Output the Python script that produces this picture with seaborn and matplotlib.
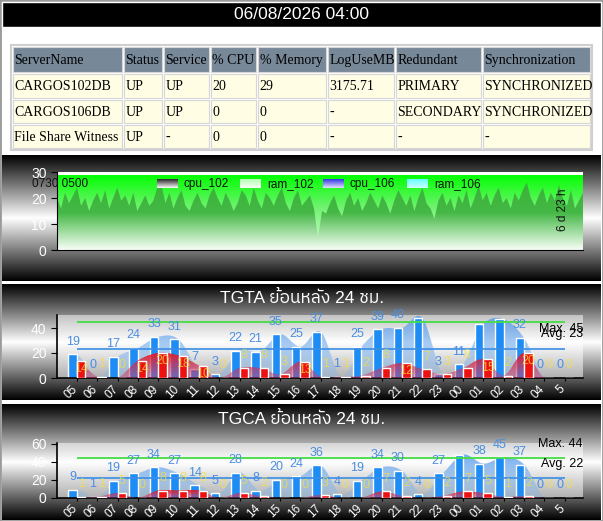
import numpy as np
import pandas as pd
import matplotlib
matplotlib.use("Agg")
import matplotlib.pyplot as plt
import seaborn as sns
from matplotlib import font_manager as fm
from matplotlib.ft2font import FT2Font
from matplotlib.patches import Rectangle
from matplotlib.transforms import ScaledTranslation, blended_transform_factory

sns.set_style("white")
plt.rcParams['font.family'] = ['Liberation Sans', 'DejaVu Sans']

# ---------------- datos ----------------
fecha = "06/08/2026 04:00"
columnas = ['ServerName', 'Status', 'Service', '% CPU', '% Memory', 'LogUseMB', 'Redundant', 'Synchronization']
fila_102 = ['CARGOS102DB', 'UP', 'UP', '20', '29', '3175.71', 'PRIMARY', 'SYNCHRONIZED']
fila_106 = ['CARGOS106DB', 'UP', 'UP', '0', '0', '-', 'SECONDARY', 'SYNCHRONIZED']
fila_fsw = ['File Share Witness', 'UP', '-', '0', '0', '-', '-', '-']

horas = ['05', '06', '07', '08', '09', '10', '11', '12', '13', '14', '15', '16', '17',
         '18', '19', '20', '21', '22', '23', '00', '01', '02', '03', '04', '5']

tgta_azul = [19, 0, 17, 24, 33, 31, 7, 3, 22, 21, 35, 25, 37, 1, 25, 39, 40, 48, 3, 11, 43, 47, 32, 0, 0]
tgta_rojo = [14, 1, 0, 14, 20, 18, 10, 0, 8, 8, 3, 13, 1, 1, 2, 8, 12, 7, 3, 8, 15, 2, 20, 0, 0]
tgta_max, tgta_avg = 45, 23

tgca_azul = [9, 1, 19, 27, 34, 27, 14, 5, 28, 8, 20, 24, 36, 4, 19, 34, 30, 4, 27, 48, 38, 45, 37, 0, 0]
tgca_rojo = [1, 1, 5, 0, 8, 8, 8, 0, 5, 2, 0, 0, 3, 0, 0, 7, 2, 0, 2, 7, 5, 1, 2, 0, 0]
tgca_max, tgca_avg = 44, 22

cpu_102 = [20, 16, 22, 18, 21, 24, 17, 20, 15, 19,
           22, 18, 23, 16, 20, 24, 19, 21, 17, 22,
           15, 18, 21, 17, 19, 24, 25, 18, 22, 16,
           20, 23, 17, 15, 19, 22, 18, 16, 21, 24,
           20, 17, 22, 19, 15, 18, 23, 21, 17, 24,
           19, 16, 22, 20, 17, 21, 24, 18, 15, 20,
           23, 17, 19, 21, 16, 4.5, 15, 14, 18, 21,
           16, 13, 19, 22, 17, 20, 15, 18, 22, 19,
           16, 21, 18, 14, 19, 23, 20, 17, 21, 15,
           20, 24, 18, 16, 12, 19, 22, 17, 20, 15,
           21, 18, 23, 16, 20, 25, 19, 22, 17, 21,
           24, 18, 20, 16, 22, 19, 23, 26, 20, 17,
           21, 24, 18, 22, 19, 25, 20, 17, 23, 16, 19, 22]
ram_102_nivel = 29
leyenda = ['cpu_102', 'ram_102', 'cpu_106', 'ram_106']


# buscar una fuente instalada con glifos tailandeses
def familia_con(ch):
    fuentes = sorted(fm.fontManager.ttflist, key=lambda f: ('Sans' not in f.name, f.name))
    for f in fuentes:
        try:
            if ord(ch) in FT2Font(f.fname).get_charmap():
                return f.name
        except Exception:
            pass
    return None


thai = familia_con('ย')
fam_titulo = ['Liberation Sans'] + ([thai] if thai else []) + ['DejaVu Sans']

# ---------------- figura ----------------
W, H = 603, 521
fig = plt.figure(figsize=(W / 100, H / 100), dpi=100)


def px(x0, y0, x1, y1):
    return [x0 / W, 1 - y1 / H, (x1 - x0) / W, (y1 - y0) / H]


def vgrad(stops, n=200):
    # stops: lista (posicion 0..1 desde arriba, rgba)
    t = np.linspace(0, 1, n)
    pos = [s[0] for s in stops]
    img = np.zeros((n, 1, 4))
    for c in range(4):
        img[:, 0, c] = np.interp(t, pos, [s[1][c] for s in stops])
    return img


def grad_fill(ax, x, y, stops, ytop, z):
    poly = ax.fill_between(x, 0, y, facecolor='none', edgecolor='none', zorder=z)
    im = ax.imshow(vgrad(stops), extent=[x[0], x[-1], 0, ytop], origin='upper',
                   aspect='auto', interpolation='bilinear', zorder=z)
    im.set_clip_path(poly.get_paths()[0], transform=ax.transData)


def suave(vals, n=12):
    p = np.asarray(vals, float)
    pts = np.concatenate([[p[0]], p, [p[-1]]])
    xs, ys = [], []
    t = np.linspace(0, 1, n, endpoint=False)
    for i in range(len(p) - 1):
        p0, p1, p2, p3 = pts[i:i + 4]
        y = 0.5 * (2 * p1 + (-p0 + p2) * t + (2 * p0 - 5 * p1 + 4 * p2 - p3) * t ** 2
                   + (-p0 + 3 * p1 - 3 * p2 + p3) * t ** 3)
        xs.append(i + t)
        ys.append(y)
    xs.append([len(p) - 1])
    ys.append([p[-1]])
    return np.concatenate(xs), np.clip(np.concatenate(ys), 0, None)


bg = fig.add_axes([0, 0, 1, 1])
bg.axis('off')
bg.add_patch(Rectangle((0, 0), W, H, facecolor='white', edgecolor='#9a9a9a', lw=2, zorder=0))
bg.add_patch(Rectangle((2, 2), W - 4, 25, facecolor='black', zorder=2))
bg.text(302, 14.5, fecha, color='white', fontsize=12.5, ha='center', va='center', zorder=3)

# tabla
col_x = [12, 123, 163, 210, 257, 327, 395, 482, 591]
row_y = [46, 73, 99, 124, 149]
bg.add_patch(Rectangle((11, 44.5), 581, 105.5, facecolor='white', edgecolor='#cfcfcf', lw=1.5, zorder=2))
for r, fila in enumerate([columnas, fila_102, fila_106, fila_fsw]):
    color = '#778899' if r == 0 else '#fffde3'
    for c, txt in enumerate(fila):
        x0, x1 = col_x[c], col_x[c + 1]
        y0, y1 = row_y[r], row_y[r + 1]
        bg.add_patch(Rectangle((x0 + 1, y0 + 1), x1 - x0 - 2, y1 - y0 - 2,
                               facecolor=color, edgecolor='#d6d6d6', lw=0.8, zorder=2))
        bg.text(x0 + 2.5, (y0 + y1) / 2 + 1, txt, family='Liberation Serif', fontsize=10,
                ha='left', va='center', color='black', zorder=3)


def metal(y0, y1):
    t = np.linspace(0, 1, 256)
    v = np.clip(1 - np.abs(2 * t - 1), 0, 1)
    bg.imshow(np.repeat(v[:, None], 2, axis=1), cmap='gray', vmin=0, vmax=1,
              extent=[2, W - 2, y1, y0], aspect='auto', interpolation='bilinear', zorder=1)


metal(156, 281.5)
metal(285, 400.5)
metal(404, H - 1)
bg.set_xlim(0, W)
bg.set_ylim(H, 0)

# ---------------- panel 1: cpu / ram ----------------
ax1 = fig.add_axes(px(57, 172, 583, 250))
ax1.set_facecolor('white')
x1 = np.arange(len(cpu_102))
ram_102 = np.full(len(cpu_102), ram_102_nivel)
grad_fill(ax1, x1, ram_102, [(0, (0, 1, 0, 1)), (0.45, (0.45, 0.95, 0.45, 1)), (1, (0.85, 1, 0.85, 1))],
          ram_102_nivel, 1)
grad_fill(ax1, x1, np.array(cpu_102), [(0, (0.22, 0.7, 0.22, 1)), (0.45, (0.27, 0.72, 0.27, 1)),
                                       (1, (0.97, 1, 0.97, 1))], max(cpu_102), 2)
ax1.set_xlim(0, len(cpu_102) - 1)
ax1.set_ylim(0, 30)
ax1.set_yticks([0, 10, 20, 30])
ax1.set_xticks([])
for s in ['top', 'right']:
    ax1.spines[s].set_visible(False)
for s in ['left', 'bottom']:
    ax1.spines[s].set_color('black')
ax1.tick_params(axis='y', colors='black', labelcolor='white', labelsize=10, length=4, left=True)

swatch_x = [157, 240, 323, 407]
swatch_cols = [[(0, (0.15, 0.15, 0.15, 1)), (1, (1, 1, 1, 1))],
               [(0, (0.7, 1, 0.7, 1)), (1, (0.97, 1, 0.97, 1))],
               [(0, (0.2, 0.2, 0.9, 1)), (1, (0.9, 0.9, 1, 1))],
               [(0, (0.4, 1, 1, 1)), (1, (0.8, 1, 1, 1))]]
for nombre, sx, st in zip(leyenda, swatch_x, swatch_cols):
    sw = fig.add_axes(px(sx, 179, sx + 21, 188))
    sw.imshow(vgrad(st), aspect='auto', interpolation='bilinear')
    sw.axis('off')
    fig.text((sx + 27) / W, 1 - 184 / H, nombre, fontsize=8.5, color='#111111', va='center')
fig.text(32 / W, 1 - 184 / H, '0730 0500', fontsize=8.5, color='#111111', va='center')
fig.text(563 / W, 1 - 210 / H, '6 d 23 h', fontsize=8.5, color='#111111', rotation=90,
         ha='center', va='center')


# ---------------- paneles de barras ----------------
def panel_barras(rect, titulo, ty, azul, rojo, vmax, vavg, ytop, yticks, off_max, off_avg):
    ax = fig.add_axes(px(*rect))
    ax.set_facecolor((1, 1, 1, 0.5))
    df = pd.DataFrame({'hora': horas * 2,
                       'serie': ['azul'] * len(horas) + ['rojo'] * len(horas),
                       'valor': azul + rojo})
    sns.barplot(data=df, x='hora', y='valor', hue='serie', order=horas, hue_order=['azul', 'rojo'],
                palette={'azul': '#1e8cf5', 'rojo': '#ee1111'}, width=0.84, saturation=1,
                errorbar=None, legend=False, ax=ax)
    for b in ax.containers[0]:
        b.set_zorder(2)
    for b in ax.containers[1]:
        b.set_zorder(4)

    xs, ys = suave(azul)
    grad_fill(ax, xs, ys, [(0, (0.36, 0.62, 0.92, 0.85)), (1, (0.5, 0.72, 0.95, 0.3))], ys.max(), 1)
    xs, ys = suave(rojo)
    grad_fill(ax, xs, ys, [(0, (0.92, 0.08, 0.1, 0.95)), (1, (0.8, 0.25, 0.45, 0.45))], ys.max(), 3)

    ax.hlines(vmax, 0, len(horas) - 1, color='#44dd44', lw=1.3, zorder=5)
    ax.hlines(vavg, 0, len(horas) - 1, color='#3a8ee6', lw=1.2, zorder=5)

    # unidades de datos por pixel, para dejar fuera etiquetas que salen del area
    upp = ytop / ((rect[3] - rect[1]))
    for b, v in zip(ax.containers[0], azul):
        if v + 12.5 * upp > ytop:
            continue
        ax.annotate(str(v), (b.get_x() + b.get_width() / 2, v), xytext=(0, 9),
                    textcoords='offset points', ha='center', va='center', fontsize=9,
                    color='#4a8ee0', zorder=6, annotation_clip=False)
    for b, v in zip(ax.containers[1], rojo):
        dy = -6 if v > 9 else 9
        ax.annotate(str(v), (b.get_x() + b.get_width() / 2, v), xytext=(0, dy),
                    textcoords='offset points', ha='center', va='center', fontsize=9,
                    color='#f2e040', alpha=0.75, zorder=6)

    tr = blended_transform_factory(ax.transAxes, ax.transData)
    ax.annotate(f'Max. {vmax}', (1.0, vmax), xycoords=tr, xytext=(0, off_max),
                textcoords='offset points', ha='right', va='center', fontsize=9, color='black', zorder=7)
    ax.annotate(f'Avg. {vavg}', (1.0, vavg), xycoords=tr, xytext=(0, off_avg),
                textcoords='offset points', ha='right', va='center', fontsize=9, color='black', zorder=7)

    ax.set_xlim(-0.98, len(horas) - 0.1)
    ax.set_ylim(0, ytop)
    ax.set_yticks(yticks)
    ax.set_xlabel('')
    ax.set_ylabel('')
    for s in ['top', 'right']:
        ax.spines[s].set_visible(False)
    for s in ['left', 'bottom']:
        ax.spines[s].set_color('black')
        ax.spines[s].set_linewidth(1.2)
    ax.tick_params(axis='y', colors='black', labelcolor='white', labelsize=10, length=4, left=True)
    ax.tick_params(axis='x', colors='black', labelcolor='white', labelsize=8.5, length=2,
                   bottom=True, pad=1.5)
    ax.set_xticks(range(len(horas)))
    ax.set_xticklabels(horas, rotation=45, ha='right')
    for lab in ax.get_xticklabels():
        lab.set_transform(lab.get_transform() + ScaledTranslation(3 / 100, 0, fig.dpi_scale_trans))
    bg.text(302, ty, titulo, color='white', fontsize=12.5, ha='center', va='center',
            family=fam_titulo, zorder=3)
    return ax


panel_barras((57, 315, 583, 378), 'TGTA ย้อนหลัง 24 ชม.', 297.5, tgta_azul, tgta_rojo,
             tgta_max, tgta_avg, 50.4, [0, 20, 40], -5, 11)
panel_barras((57, 443, 583, 497.7), 'TGCA ย้อนหลัง 24 ชม.', 418.5, tgca_azul, tgca_rojo,
             tgca_max, tgca_avg, 61, [0, 20, 40, 60], 10, 10)

fig.savefig('out.png', dpi=100)
